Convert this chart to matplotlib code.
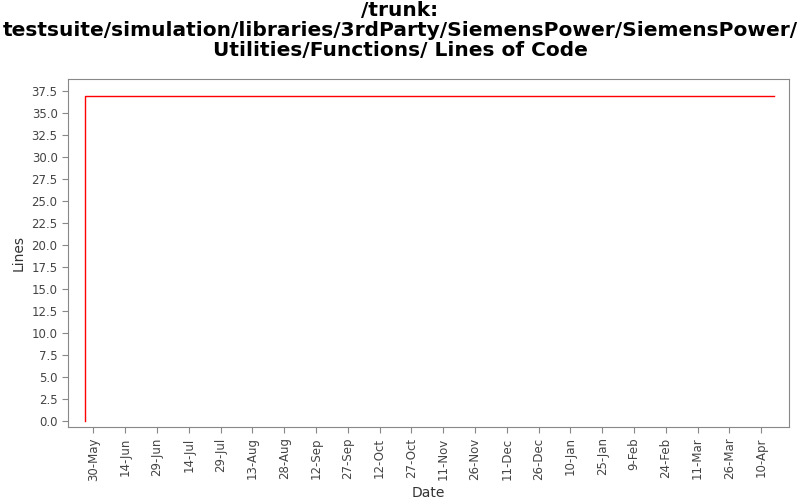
import matplotlib
matplotlib.use("Agg")
import matplotlib.pyplot as plt
import datetime as dt

dates = [dt.date(2009,5,26), dt.date(2009,5,26), dt.date(2010,4,16)]
lines = [0, 37, 37]
tick_dates = [dt.date(2009,5,30)+dt.timedelta(days=15*i) for i in range(22)]
tick_labels = [d.strftime("%-d-%b") for d in tick_dates]

fig = plt.figure(figsize=(8,5), dpi=100)
ax = fig.add_axes([0.085, 0.146, 0.901, 0.696])
ax.plot(dates, lines, color="red", linewidth=1)
ax.set_xlim(dt.date(2009,5,18), dt.date(2010,4,23))
ax.set_ylim(-0.7, 38.9)
ax.set_yticks([i*2.5 for i in range(16)])
ax.set_yticklabels([f"{i*2.5:.1f}" for i in range(16)], fontsize=8.5, color="#444444")
ax.set_xticks(tick_dates)
ax.set_xticklabels(tick_labels, rotation=90, fontsize=8.5, color="#444444")
for s in ax.spines.values():
    s.set_color("#888888")
ax.tick_params(color="#888888", length=4)
ax.set_xlabel("Date", fontsize=10, color="#333333")
ax.set_ylabel("Lines", fontsize=10, color="#333333")
fig.suptitle("/trunk:\ntestsuite/simulation/libraries/3rdParty/SiemensPower/SiemensPower/\nUtilities/Functions/ Lines of Code",
             fontsize=14.5, fontweight="bold", y=0.998, linespacing=1.05)
fig.savefig("out.png")
